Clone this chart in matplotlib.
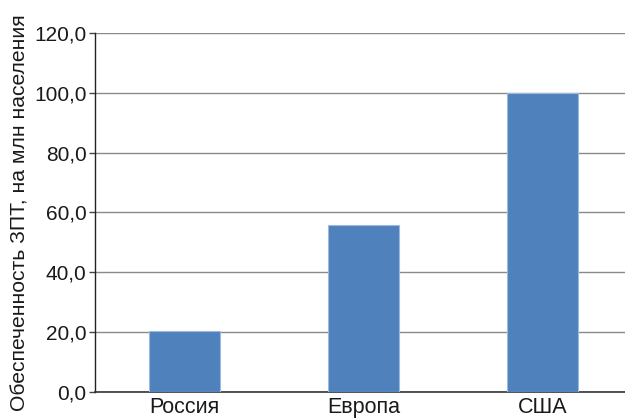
import matplotlib
matplotlib.use("Agg")
import matplotlib.pyplot as plt
from matplotlib.ticker import FuncFormatter

categories = ["Россия", "Европа", "США"]
values = [20.3, 55.8, 100.0]
yticks = [0, 20, 40, 60, 80, 100, 120]

plt.rcParams['font.family'] = ['Liberation Sans', 'DejaVu Sans']

fig = plt.figure(figsize=(6.25, 4.18), dpi=100)
ax = fig.add_axes([0.152, 0.0622, 0.859, 0.859])

x = range(len(categories))
ax.bar(x, values, width=0.4, color='#4F81BD', edgecolor='#9DB9DE', linewidth=0.8, zorder=3)

ax.set_xlim(-0.5, 2.5)
ax.set_ylim(0, 120)
ax.set_yticks(yticks)
ax.yaxis.set_major_formatter(FuncFormatter(lambda v, p: f"{v:.1f}".replace('.', ',')))
ax.set_xticks(list(x))
ax.set_xticklabels(categories)
ax.grid(axis='y', color='#8a8a8a', linewidth=1.0, zorder=0)
ax.set_axisbelow(True)

for s in ['top', 'right']:
    ax.spines[s].set_visible(False)
ax.spines['left'].set_color('#222222')
ax.spines['bottom'].set_color('#333333')
ax.spines['left'].set_linewidth(1.0)
ax.spines['bottom'].set_linewidth(1.2)

ax.tick_params(axis='y', length=4, width=1, color='#444444', labelsize=15, pad=2, labelcolor='#1a1a1a')
ax.tick_params(axis='x', length=0, labelsize=15.5, pad=3.5, labelcolor='#1a1a1a')

ax.set_ylabel("Обеспеченность ЗПТ, на млн населения", fontsize=15.2, color='#1a1a1a', labelpad=3)

fig.savefig("out.png", dpi=100)
